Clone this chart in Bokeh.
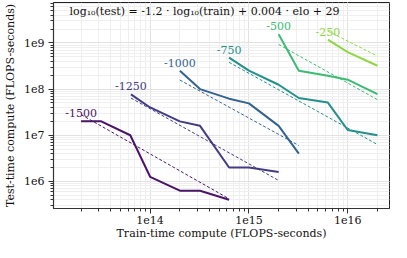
from bokeh.plotting import figure
from bokeh.models import CustomJSTickFormatter, Label, LogTicker
from bokeh.core.properties import value
from bokeh.embed import file_html
from bokeh.resources import INLINE

# ---- data ----
elos = [-1500, -1250, -1000, -750, -500, -250]
labels = ["-1500", "-1250", "-1000", "-750", "-500", "-250"]
colors = ["#4a1468", "#443b84", "#33648f", "#23908b", "#3cbb75", "#8fd744"]

train_m1500 = [2e13, 3.2e13, 6.3e13, 1e14, 2e14, 3.2e14, 6.3e14]
test_m1500 = [2e7, 2e7, 1e7, 1.26e6, 6.3e5, 6.3e5, 4e5]
train_m1250 = [6.4e13, 1e14, 2e14, 3.2e14, 6.3e14, 1e15, 2e15]
test_m1250 = [7.7e7, 4e7, 2e7, 1.6e7, 2e6, 2e6, 1.6e6]
train_m1000 = [2e14, 3.2e14, 6.3e14, 1e15, 2e15, 3.2e15]
test_m1000 = [2.5e8, 1e8, 6.2e7, 4.9e7, 1.6e7, 4e6]
train_m750 = [6.3e14, 1e15, 2e15, 3.2e15, 6.3e15, 1e16, 2e16]
test_m750 = [4.8e8, 2.5e8, 1.24e8, 6.4e7, 5.1e7, 1.3e7, 1e7]
train_m500 = [2e15, 3.2e15, 6.3e15, 1e16, 2e16]
test_m500 = [1.54e9, 2.5e8, 1.95e8, 1.6e8, 7.8e7]
train_m250 = [6.3e15, 1e16, 2e16]
test_m250 = [1.18e9, 6.3e8, 3.2e8]

# fitted (dashed) line end values: test compute at first / last train compute
fit_start = [2.8e7, 6.4e7, 1.57e8, 3.8e8, 9.25e8, 1.8e9]
fit_end = [4.2e5, 1.05e6, 6.0e6, 6.3e6, 5.9e7, 5.2e8]

trains = [train_m1500, train_m1250, train_m1000, train_m750, train_m500, train_m250]
tests = [test_m1500, test_m1250, test_m1000, test_m750, test_m500, test_m250]

title_text = "log\u2081\u2080(test) = -1.2 \u00b7 log\u2081\u2080(train) + 0.004 \u00b7 elo + 29"

FONT = "DejaVu Serif"

p = figure(width=391, height=242, x_axis_type="log", y_axis_type="log",
           x_range=(10 ** 13.022, 10 ** 16.423), y_range=(10 ** 5.414, 10 ** 9.875),
           output_backend="svg", toolbar_location=None,
           min_border_left=0, min_border_right=2, min_border_top=2, min_border_bottom=0)

p.background_fill_color = "white"
p.outline_line_color = "#222222"
p.outline_line_width = 1

for ax in (p.xaxis[0], p.yaxis[0]):
    ax.ticker = LogTicker(num_minor_ticks=10)
    ax.formatter = CustomJSTickFormatter(code="return '1e' + Math.round(Math.log10(tick));")
    ax.major_label_text_font = FONT
    ax.major_label_text_font_size = "11px"
    ax.major_label_text_color = "#111111"
    ax.axis_label_text_font = FONT
    ax.axis_label_text_font_size = "11px"
    ax.axis_label_text_font_style = "normal"
    ax.axis_label_text_color = "#111111"
    ax.axis_line_color = "#333333"
    ax.axis_line_width = 1.2
    ax.major_tick_line_color = "#333333"
    ax.minor_tick_line_color = "#333333"
    ax.major_tick_in = 0
    ax.major_tick_out = 5
    ax.minor_tick_in = 0
    ax.minor_tick_out = 3

p.xaxis.axis_label = "Train-time compute (FLOPS-seconds)"
p.yaxis.axis_label = "Test-time compute (FLOPS-seconds)"
p.xaxis.axis_label_standoff = 0
p.yaxis.axis_label_standoff = 4
p.xaxis.major_label_standoff = 2
p.yaxis.major_label_standoff = 4

for g in (p.xgrid[0], p.ygrid[0]):
    g.grid_line_color = "#e2e2e2"
    g.grid_line_width = 1
    g.minor_grid_line_color = "#efefef"
    g.minor_grid_line_width = 1

for tr, te, fs, fe, col, lab in zip(trains, tests, fit_start, fit_end, colors, labels):
    p.line([tr[0], tr[-1]], [fs, fe], line_color=col, line_width=1, line_dash="3 2")
    p.line(tr, te, line_color=col, line_width=2)
    p.text([tr[0]], [te[0]], text=[lab], text_color=col, text_font=value(FONT),
           text_font_size="11px", text_align="center", text_baseline="bottom", y_offset=-4)

p.add_layout(Label(x=10 ** 13.184, y=10 ** 9.69, text=title_text, text_font=FONT,
                   text_font_size="11px", text_color="#111111", text_baseline="middle",
                   text_align="left"))

open("out.html", "w").write(file_html(p, INLINE))
